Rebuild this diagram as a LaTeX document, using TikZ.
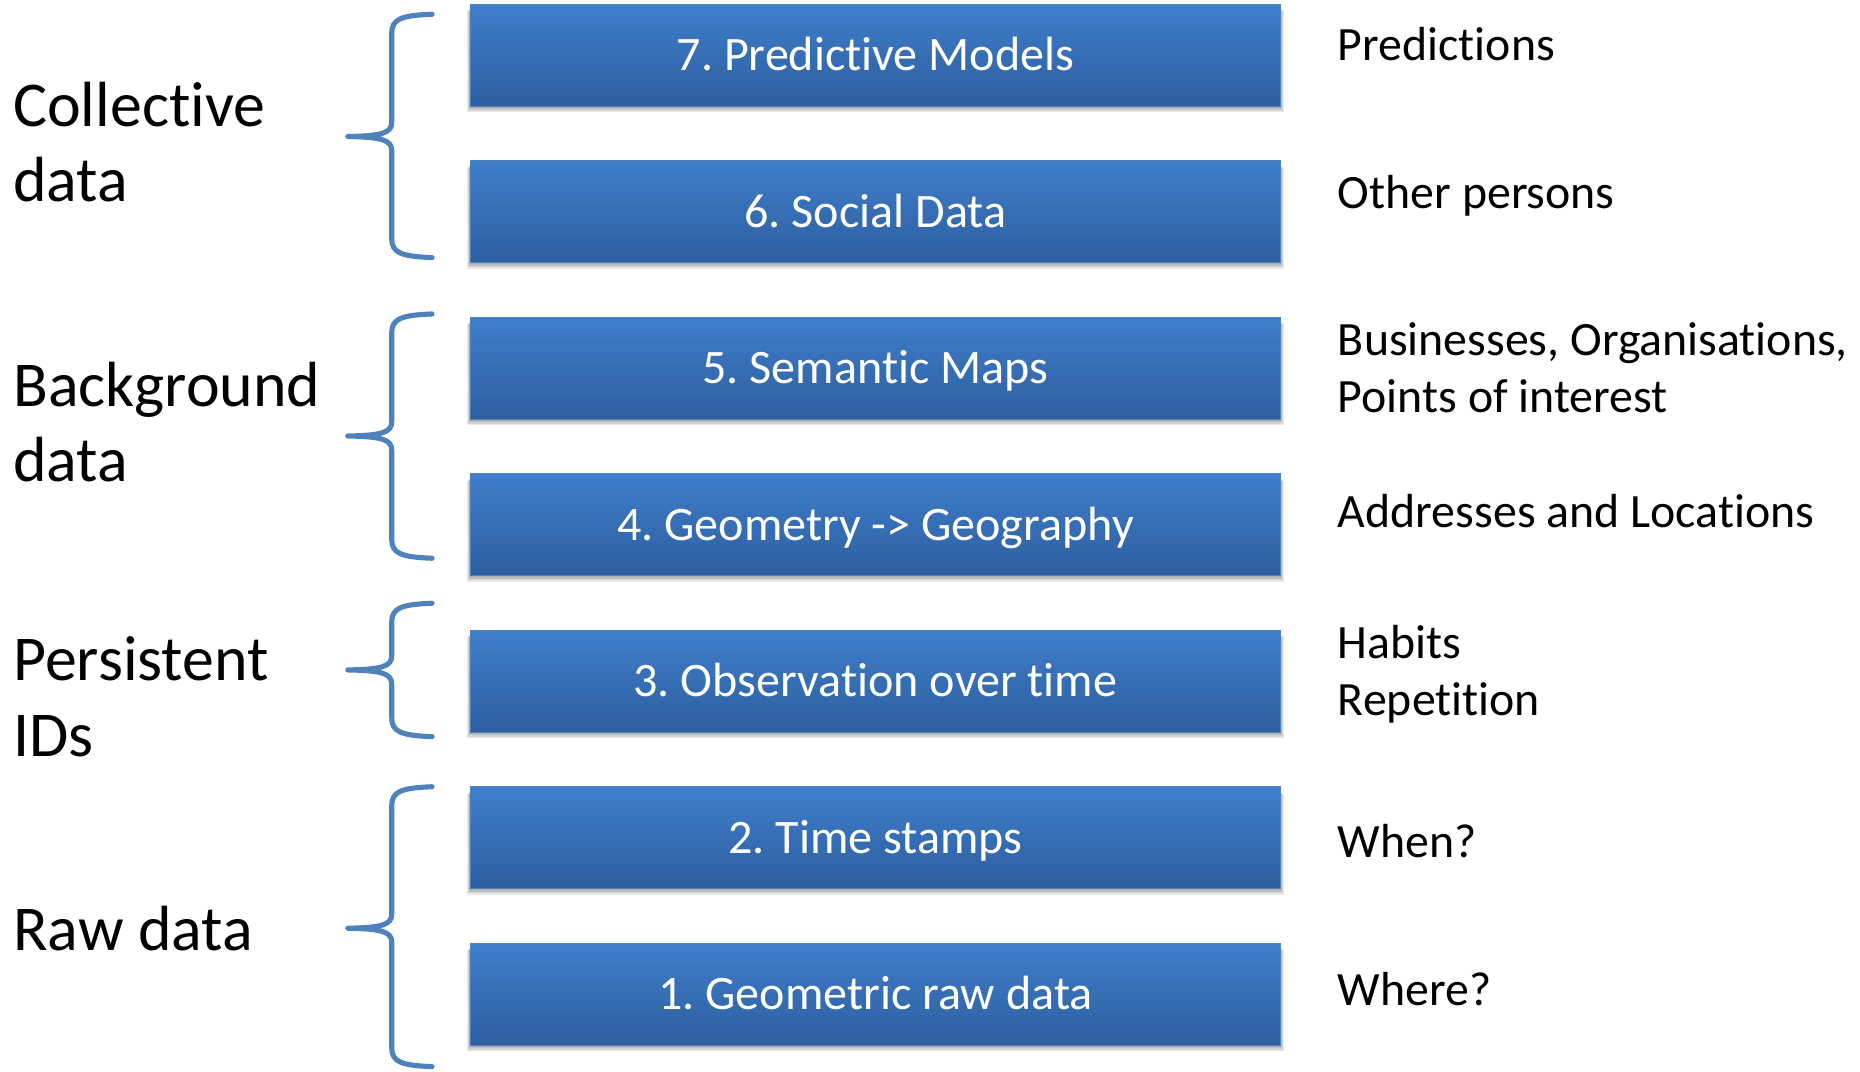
\documentclass[tikz,border=0pt]{standalone}
\usepackage{fontspec}
\setmainfont{Carlito}[Ligatures={NoCommon}]
\frenchspacing
\definecolor{boxtop}{RGB}{62,126,203}
\definecolor{boxbot}{RGB}{46,94,158}
\definecolor{boxline}{RGB}{79,129,189}
\definecolor{bracecol}{RGB}{79,129,189}
\newcommand{\dbrace}[3]{%
  \draw[bracestyle] (364,#1) .. controls (338,#1+1) and (330,#1+4) .. (330,#1+16)
    -- (330,#2-12) .. controls (330,#2-3) and (322,#2-0.5) .. (293,#2)
    .. controls (322,#2+0.5) and (330,#2+3) .. (330,#2+12)
    -- (330,#3-16) .. controls (330,#3-4) and (338,#3-1) .. (364,#3);}
\begin{document}
\begin{tikzpicture}[x=1pt,y=-1pt,
  bracestyle/.style={draw=bracecol,line width=4.3pt,line cap=round,line join=round},
  layerbox/.style={rectangle,minimum width=683pt,minimum height=86pt,inner sep=0pt,
    top color=boxtop,bottom color=boxbot,draw=boxline,line width=0.8pt,
    text=white,font=\fontsize{40.5}{48}\selectfont,text height=26.4pt,text depth=0pt},
  sidetext/.style={anchor=base west,inner sep=0pt,font=\fontsize{40.3}{48}\selectfont},
  grouplabel/.style={anchor=base west,inner sep=0pt,font=\fontsize{53.8}{64}\selectfont}]
\useasboundingbox (0,0) rectangle (1567,903);
\fill[white] (0,0) rectangle (1567,903);
% shadows
\foreach \t in {3.4,135.25,267.1,398.95,530.8,662.65,794.5}{
  \foreach \d in {1,2,3,4}{
    \fill[black,opacity=0.09] (396-\d*0.6,\t+3+\d*0.8) rectangle (1079+\d*0.6,\t+86+\d*1.3);
  }
}
\node[layerbox] (b7) at (737.5,46.4) {7. Predictive Models};
\node[layerbox] (b6) at (737.5,178.25) {6. Social Data};
\node[layerbox] (b5) at (737.5,310.1) {5. Semantic Maps};
\node[layerbox] (b4) at (737.5,441.95) {4. Geometry -> Geography};
\node[layerbox] (b3) at (737.5,573.8) {3. Observation over time};
\node[layerbox] (b2) at (737.5,705.65) {2. Time stamps};
\node[layerbox] (b1) at (737.5,837.5) {1. Geometric raw data};
% braces
\dbrace{12}{115}{217}
\dbrace{264.5}{367.3}{470.3}
\dbrace{508.2}{564.4}{620.6}
\dbrace{662.8}{782}{898.6}
% group labels
\node[grouplabel] (g1a) at (11,106.3) {Collective};
\node[grouplabel] (g1b) at (11,170) {data};
\node[grouplabel] (g2a) at (11,342.8) {Background};
\node[grouplabel] (g2b) at (11,405.9) {data};
\node[grouplabel] (g3a) at (11,573) {Persistent};
\node[grouplabel] (g3b) at (11,637.6) {IDs};
\node[grouplabel] (g4) at (11,800.6) {Raw data};
% side texts
\node[sidetext] (s7) at (1127,51) {Predictions};
\node[sidetext] (s6) at (1127,175.8) {Other persons};
\node[sidetext] (s5a) at (1127,299.8) {Businesses, Organisations,};
\node[sidetext] (s5b) at (1127,347.3) {Points of interest};
\node[sidetext] (s4) at (1127,444.8) {Addresses and Locations};
\node[sidetext] (s3a) at (1127,554.9) {Habits};
\node[sidetext] (s3b) at (1127,602.6) {Repetition};
\node[sidetext] (s2) at (1127,722.6) {When?};
\node[sidetext] (s1) at (1127,847.5) {Where?};
\end{tikzpicture}
\end{document}
